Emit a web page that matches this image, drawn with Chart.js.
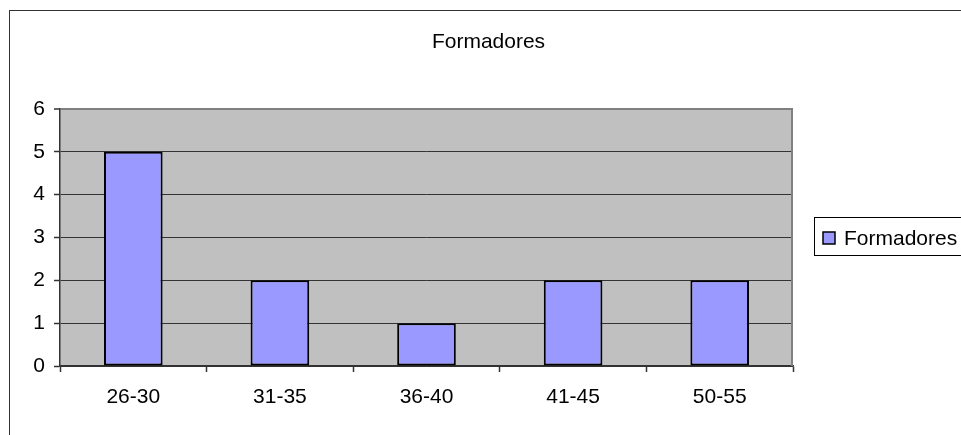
<!DOCTYPE html>
<html>
<head>
<meta charset="utf-8">
<script src="https://cdn.jsdelivr.net/npm/chart.js@4/dist/chart.umd.min.js"></script>
<style>
  html, body { margin: 0; padding: 0; background: #ffffff; overflow: hidden; }
  canvas { display: block; }
</style>
</head>
<body>
<canvas id="chart" width="961" height="435"></canvas>
<script>
// Age brackets and the number of trainers in each
const categories = ['26-30', '31-35', '36-40', '41-45', '50-55'];
const formadores = [5, 2, 1, 2, 2];
const seriesName = 'Formadores';
const chartTitle = 'Formadores';
const yMin = 0;
const yMax = 6;
const yStep = 1;

const FONT = '"Liberation Sans", Arial, sans-serif';
const FONT_SIZE = 21;
const BAR_FILL = '#9999FF';
const PLOT_BG = '#C0C0C0';
const LINE_DARK = '#333333';
const LINE_GRAY = '#808080';

// Frame, plot background, title and the boxed legend
const decor = {
  id: 'decor',
  beforeDraw(chart) {
    const { ctx, chartArea: a } = chart;
    ctx.save();
    ctx.fillStyle = '#ffffff';
    ctx.fillRect(0, 0, chart.width, chart.height);
    ctx.strokeStyle = LINE_DARK;
    ctx.lineWidth = 1;
    ctx.strokeRect(9.5, 10.5, chart.width + 20, chart.height + 20);
    ctx.fillStyle = PLOT_BG;
    ctx.fillRect(a.left, a.top, a.right - a.left, a.bottom - a.top);
    ctx.restore();
  },
  afterDraw(chart) {
    const { ctx, chartArea: a } = chart;
    ctx.save();
    // right edge of the plot area
    ctx.strokeStyle = LINE_GRAY;
    ctx.lineWidth = 2;
    ctx.beginPath();
    ctx.moveTo(a.right - 1, a.top);
    ctx.lineTo(a.right - 1, a.bottom);
    ctx.stroke();

    // title
    ctx.fillStyle = '#000000';
    ctx.font = FONT_SIZE + 'px ' + FONT;
    ctx.textAlign = 'center';
    ctx.textBaseline = 'alphabetic';
    ctx.fillText(chartTitle, 488.5, 48);

    // legend
    const ds = chart.data.datasets[0];
    ctx.strokeStyle = '#000000';
    ctx.lineWidth = 1;
    ctx.fillStyle = '#ffffff';
    ctx.fillRect(814.5, 217.5, 200, 38);
    ctx.strokeRect(814.5, 217.5, 200, 38);
    ctx.fillStyle = ds.backgroundColor;
    ctx.fillRect(823, 232, 12, 12);
    ctx.lineWidth = 1.5;
    ctx.strokeRect(823, 232, 12, 12);
    ctx.fillStyle = '#000000';
    ctx.textAlign = 'left';
    ctx.fillText(ds.label, 844, 245);
    ctx.restore();
  }
};

new Chart(document.getElementById('chart'), {
  type: 'bar',
  data: {
    labels: categories,
    datasets: [{
      label: seriesName,
      data: formadores,
      backgroundColor: BAR_FILL,
      borderColor: '#000000',
      borderWidth: 2,
      borderSkipped: false,
      barPercentage: 0.4,
      categoryPercentage: 1.0
    }]
  },
  options: {
    responsive: false,
    animation: false,
    devicePixelRatio: 1,
    layout: { padding: { top: 109, right: 168, bottom: 0, left: 0 } },
    plugins: {
      legend: { display: false },
      title: { display: false },
      tooltip: { enabled: false }
    },
    scales: {
      x: {
        afterFit(scale) { scale.height = 69; },
        grid: {
          offset: true,
          drawOnChartArea: false,
          drawTicks: true,
          tickLength: 6,
          tickColor: LINE_DARK,
          tickWidth: 1.5
        },
        border: { color: LINE_DARK, width: 1.5 },
        ticks: {
          color: '#000000',
          padding: 13,
          maxRotation: 0,
          font: { family: FONT, size: FONT_SIZE }
        }
      },
      y: {
        min: yMin,
        max: yMax,
        afterFit(scale) { scale.width = 60; },
        grid: {
          color: (c) => (c.tick && c.tick.value === yMax ? LINE_GRAY : LINE_DARK),
          lineWidth: (c) => (c.tick && c.tick.value === yMax ? 2 : 1),
          drawTicks: true,
          tickLength: 6,
          tickColor: LINE_DARK,
          tickWidth: 1.5
        },
        border: { color: LINE_DARK, width: 1.5 },
        ticks: {
          stepSize: yStep,
          color: '#000000',
          padding: 9,
          font: { family: FONT, size: FONT_SIZE }
        }
      }
    }
  },
  plugins: [decor]
});
</script>
</body>
</html>
